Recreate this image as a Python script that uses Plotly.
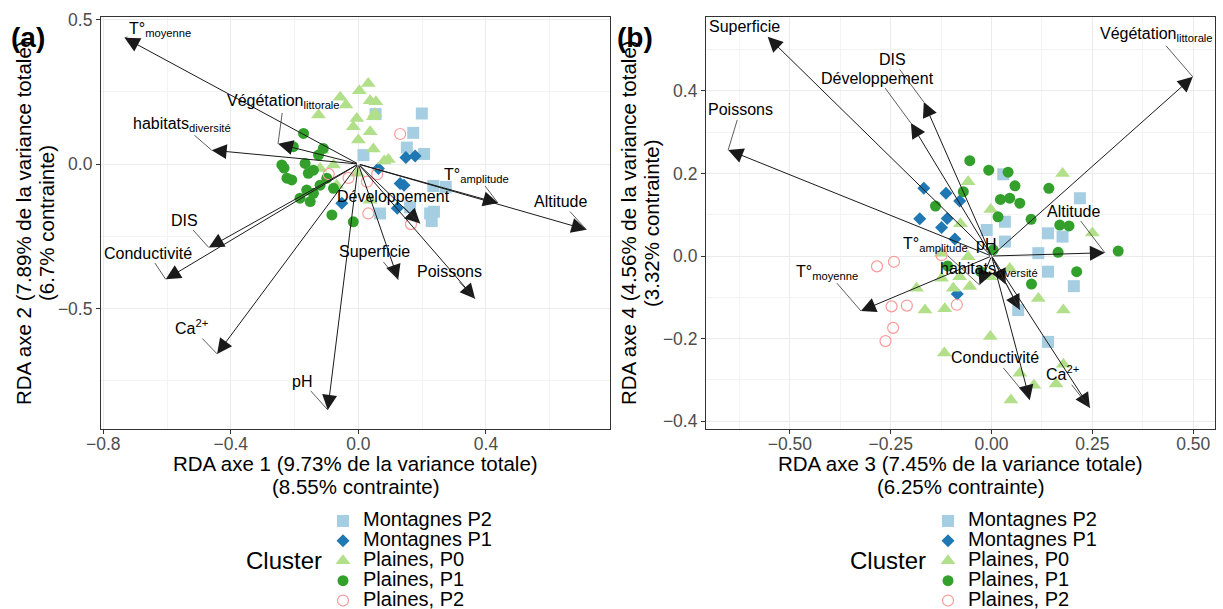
import plotly.graph_objects as go

W, H = 1223, 609
FONT = "Liberation Sans, Arial, sans-serif"

# ---------------- clusters ----------------
clusters = ["Montagnes P2", "Montagnes P1", "Plaines, P0", "Plaines, P1", "Plaines, P2"]
colors = ["#A6CEE3", "#1F78B4", "#B2DF8A", "#33A02C", "#FB9A99"]
symbols = ["square", "diamond", "triangle-up", "circle", "circle-open"]
msizes = [12, 10, 13, 11, 11]

# ---------------- panel (a): RDA1 x RDA2 site scores ----------------
a_mp2_x = [0.199, 0.172, 0.054, 0.152, 0.206, 0.016, 0.235, 0.274, 0.068, 0.162, 0.225, 0.237, 0.230]
a_mp2_y = [0.175, 0.108, 0.173, 0.057, 0.035, 0.031, -0.076, -0.079, -0.171, -0.150, -0.171, -0.165, -0.197]
a_mp1_x = [0.149, 0.178, 0.063, 0.131, 0.143, -0.052, 0.122]
a_mp1_y = [0.023, 0.028, -0.015, -0.067, -0.073, -0.136, -0.153]
a_p0_x = [0.031, 0.003, -0.057, 0.037, 0.055, -0.039, -0.125, -0.005, 0.047, -0.016, 0.037,
          0.000, 0.047, 0.081, 0.094, -0.120, -0.078, -0.003, -0.068, -0.115, 0.052, 0.037]
a_p0_y = [0.279, 0.254, 0.231, 0.219, 0.216, 0.204, 0.170, 0.158, 0.164, 0.129, 0.112,
          0.083, 0.052, 0.011, 0.016, -0.015, -0.003, -0.032, -0.073, 0.048, 0.175, -0.125]
a_p1_x = [-0.172, -0.204, -0.110, -0.240, -0.167, -0.224, -0.209, -0.157, -0.141, -0.162,
          -0.141, -0.151, -0.099, -0.078, -0.083, -0.016, -0.125, -0.233, -0.183, -0.120]
a_p1_y = [0.106, 0.060, 0.054, -0.003, 0.002, -0.049, -0.055, -0.032, -0.021, -0.090,
          -0.101, -0.130, -0.049, -0.084, -0.176, -0.200, 0.031, -0.014, -0.118, -0.073]
a_p2_x = [0.131, -0.093, -0.031, 0.027, 0.059, 0.031, 0.165]
a_p2_y = [0.104, -0.035, -0.048, -0.061, -0.035, -0.171, -0.208]

# ---------------- panel (b): RDA3 x RDA4 site scores ----------------
b_mp2_x = [0.029, 0.033, -0.012, 0.033, 0.219, 0.140, 0.176, 0.116, 0.140, 0.204, 0.066, 0.140]
b_mp2_y = [0.198, 0.083, 0.063, 0.035, 0.140, 0.055, 0.047, 0.007, -0.038, -0.073, -0.131, -0.208]
b_mp1_x = [-0.168, -0.113, -0.079, -0.178, -0.110, -0.124, -0.091, -0.085]
b_mp1_y = [0.164, 0.152, 0.133, 0.090, 0.091, 0.069, 0.041, -0.092]
b_p0_x = [0.176, -0.058, -0.002, -0.077, 0.250, -0.124, -0.058, 0.045, -0.079, -0.124, -0.186,
          -0.095, -0.054, -0.004, 0.116, -0.165, -0.116, 0.178, -0.003, -0.117, 0.070, 0.105,
          0.160, 0.178, 0.048]
b_p0_y = [0.200, 0.180, 0.113, 0.078, 0.056, 0.007, -0.002, -0.030, -0.050, -0.054, -0.078,
          -0.078, -0.074, -0.050, -0.103, -0.131, -0.128, -0.131, -0.195, -0.235, -0.284, -0.313,
          -0.310, -0.262, -0.349]
b_p1_x = [-0.054, -0.007, 0.041, 0.058, 0.022, 0.045, 0.070, -0.070, -0.139, 0.016, 0.098,
          0.142, 0.169, 0.192, 0.314, 0.165, 0.211, 0.099, 0.004, -0.109, -0.027]
b_p1_y = [0.231, 0.208, 0.203, 0.170, 0.137, 0.140, 0.128, 0.156, 0.121, 0.095, 0.089,
          0.164, 0.075, 0.073, 0.012, 0.009, -0.038, -0.068, 0.015, -0.024, -0.038]
b_p2_x = [-0.284, -0.242, -0.248, -0.210, -0.244, -0.263, -0.086, -0.124]
b_p2_y = [-0.025, -0.014, -0.122, -0.120, -0.174, -0.206, -0.118, 0.002]

# ---------------- environmental variables (biplot arrows) ----------------
env_labels = ["T°<sub>moyenne</sub>", "habitats<sub>diversité</sub>", "Végétation<sub>littorale</sub>",
              "DIS", "Conductivité", "Ca<sup>2+</sup>", "pH", "Superficie", "Poissons",
              "Développement", "T°<sub>amplitude</sub>", "Altitude"]

a_arrow_x = [-0.733, -0.460, -0.252, -0.469, -0.604, -0.443, -0.096, 0.125, 0.366, 0.194, 0.438, 0.715]
a_arrow_y = [0.437, 0.048, 0.070, -0.289, -0.399, -0.657, -0.851, -0.400, -0.466, -0.206, -0.135, -0.227]
a_label_x = [-0.622, -0.554, -0.234, -0.546, -0.659, -0.524, -0.177, 0.052, 0.287, 0.109, 0.371, 0.635]
a_label_y = [0.467, 0.138, 0.215, -0.194, -0.308, -0.564, -0.751, -0.304, -0.373, -0.113, -0.038, -0.130]

b_arrow_x = [-0.324, 0.035, 0.499, -0.168, 0.095, 0.244, 0.070, -0.555, -0.653, -0.200, -0.030, 0.281]
b_arrow_y = [-0.133, -0.068, 0.434, 0.373, -0.349, -0.368, -0.130, 0.531, 0.257, 0.322, -0.070, 0.008]
b_label_x = [-0.407, -0.007, 0.409, -0.246, 0.009, 0.176, -0.015, -0.612, -0.623, -0.282, -0.138, 0.202]
b_label_y = [-0.039, -0.032, 0.536, 0.476, -0.247, -0.284, 0.029, 0.555, 0.354, 0.431, 0.027, 0.109]

# axis titles (two lines each) / ranges
a_xtitle = ["RDA axe 1 (9.73% de la variance totale)", "(8.55% contrainte)"]
a_ytitle = ["RDA axe 2 (7.89% de la variance totale)", "(6.7% contrainte)"]
b_xtitle = ["RDA axe 3 (7.45% de la variance totale)", "(6.25% contrainte)"]
b_ytitle = ["RDA axe 4 (4.56% de la variance totale)", "(3.32% contrainte)"]
a_xrange = [-0.807, 0.789]
a_yrange = [-0.917, 0.509]
b_xrange = [-0.708, 0.554]
b_yrange = [-0.419, 0.579]

fig = go.Figure()

panel_a = [(a_mp2_x, a_mp2_y), (a_mp1_x, a_mp1_y), (a_p0_x, a_p0_y), (a_p1_x, a_p1_y), (a_p2_x, a_p2_y)]
panel_b = [(b_mp2_x, b_mp2_y), (b_mp1_x, b_mp1_y), (b_p0_x, b_p0_y), (b_p1_x, b_p1_y), (b_p2_x, b_p2_y)]

for panel, xa, ya, leg in [(panel_a, "x", "y", "legend"), (panel_b, "x2", "y2", "legend2")]:
    for i, (px, py) in enumerate(panel):
        fig.add_trace(go.Scatter(
            x=px, y=py, mode="markers", xaxis=xa, yaxis=ya, legend=leg,
            name='<span style="font-size:20px">' + clusters[i] + '</span>',
            marker=dict(symbol=symbols[i], size=msizes[i], color=colors[i],
                        line=dict(width=1.2 if symbols[i] == "circle-open" else 0, color=colors[i])),
            hoverinfo="skip"))

annotations = []
for ax_x, ax_y, ax, ay, lx, ly in [("x", "y", a_arrow_x, a_arrow_y, a_label_x, a_label_y),
                                   ("x2", "y2", b_arrow_x, b_arrow_y, b_label_x, b_label_y)]:
    for i in range(len(env_labels)):
        annotations.append(dict(xref=ax_x, yref=ax_y, axref=ax_x, ayref=ax_y,
                                x=ax[i], y=ay[i], ax=0, ay=0, text="", showarrow=True,
                                arrowhead=2, arrowsize=3, arrowwidth=1, arrowcolor="#1a1a1a"))
    for i in range(len(env_labels)):
        annotations.append(dict(xref=ax_x, yref=ax_y, axref=ax_x, ayref=ax_y,
                                x=ax[i], y=ay[i], ax=lx[i], ay=ly[i], text=env_labels[i],
                                showarrow=True, arrowhead=0, arrowwidth=0.8, arrowcolor="#333333",
                                font=dict(family=FONT, size=16, color="black")))

def paper(px, py):
    return px / W, 1 - py / H

def add_text(px, py, text, size, angle=0, bold=False):
    x, y = paper(px, py)
    annotations.append(dict(xref="paper", yref="paper", x=x, y=y, xanchor="center", yanchor="middle",
                            text=("<b>%s</b>" % text) if bold else text, showarrow=False, textangle=angle,
                            font=dict(family=FONT, size=size, color="black")))

TS = 20.5
add_text(355.5, 463, a_xtitle[0], TS)
add_text(355.5, 486, a_xtitle[1], TS)
add_text(960.5, 463, b_xtitle[0], TS)
add_text(960.5, 486, b_xtitle[1], TS)
add_text(23, 223, a_ytitle[0], TS, angle=-90)
add_text(46, 223, a_ytitle[1], TS, angle=-90)
add_text(628, 223, b_ytitle[0], TS, angle=-90)
add_text(651, 223, b_ytitle[1], TS, angle=-90)
add_text(28, 37, "(a)", 28, bold=True)
add_text(635, 37, "(b)", 28, bold=True)
add_text(284, 560, "Cluster", 24)
add_text(888, 560, "Cluster", 24)

def axis(domain, rng, dtick, minor, fmt, anchor, standoff):
    return dict(domain=domain, range=rng, dtick=dtick, tick0=0, tickformat=fmt, anchor=anchor,
                automargin=False, ticklabelstandoff=standoff,
                showline=True, mirror=True, linecolor="#333333", linewidth=1.1,
                ticks="outside", ticklen=4, tickwidth=1, tickcolor="#333333",
                tickfont=dict(family=FONT, size=17.5, color="#4D4D4D"),
                showgrid=True, gridcolor="#EBEBEB", gridwidth=1.2, zeroline=False,
                minor=dict(dtick=minor, tick0=0, showgrid=True, gridcolor="#F3F3F3", gridwidth=0.8))

ydom = [1 - 429 / H, 1 - 17 / H]
fig.update_layout(
    width=W, height=H, margin=dict(l=0, r=0, t=0, b=0, autoexpand=False),
    paper_bgcolor="white", plot_bgcolor="white",
    font=dict(family=FONT),
    xaxis=axis([101 / W, 610 / W], a_xrange, 0.4, 0.2, ".1f", "y", -5),
    yaxis=axis(ydom, a_yrange, 0.5, 0.25, ".1f", "x", 0),
    xaxis2=axis([706 / W, 1215 / W], b_xrange, 0.25, 0.125, ".2f", "y2", -5),
    yaxis2=axis(ydom, b_yrange, 0.2, 0.1, ".1f", "x2", 0),
    legend=dict(x=323 / W, y=1 - 506 / H, xanchor="left", yanchor="top", bgcolor="rgba(0,0,0,0)",
                font=dict(family=FONT, size=13, color="black"), borderwidth=0),
    legend2=dict(x=928 / W, y=1 - 506 / H, xanchor="left", yanchor="top", bgcolor="rgba(0,0,0,0)",
                 font=dict(family=FONT, size=13, color="black"), borderwidth=0),
    annotations=annotations,
    showlegend=True,
)

fig.write_html("out.html", config={"displayModeBar": False},
               post_script="document.body.style.margin='0px';document.body.style.overflow='hidden';")
